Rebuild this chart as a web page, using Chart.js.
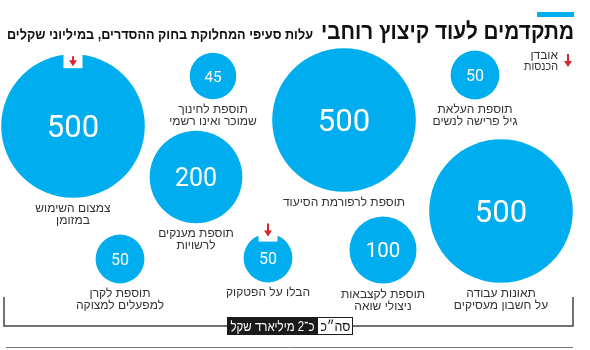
<!DOCTYPE html>
<html><head><meta charset="utf-8">
<script src="https://cdn.jsdelivr.net/npm/chart.js@4/dist/chart.umd.min.js"></script>
<style>html,body{margin:0;padding:0;background:#fff}#wrap{width:590px;height:350px}</style>
</head><body><div id="wrap"><canvas id="c" width="590" height="350"></canvas></div>
<script>
// ---- data ----
const values = [500, 45, 200, 500, 50, 500, 100, 50, 50];
const captions = [
  ["צמצום השימוש", "במזומן"],
  ["תוספת לחינוך", "שמוכר ואינו רשמי"],
  ["תוספת מענקים", "לרשויות"],
  ["תוספת לרפורמת הסיעוד"],
  ["תוספת העלאת", "גיל פרישה לנשים"],
  ["תאונות עבודה", "על חשבון מעסיקים"],
  ["תוספת לקצבאות", "ניצולי שואה"],
  ["הבלו על הפטקוק"],
  ["תוספת לקרן", "למפעלים למצוקה"]
];
const revenueLoss = [true, false, false, false, false, false, false, true, false];
const titleText = "מתקדמים לעוד קיצוץ רוחבי";
const subtitleText = "עלות סעיפי המחלוקת בחוק ההסדרים, במיליוני שקלים";
const legendLines = ["אובדן", "הכנסות"];
const totalLabel = "סה״כ";
const totalValue = "כ־2 מיליארד שקל";

// ---- layout (bubble centres in the 590x350 layout grid) ----
const posX = [73, 213, 196, 344, 475, 501, 383, 268, 120];
const posY = [126, 76, 177, 120, 75, 211, 250, 258, 259];

const BLUE = '#00AEEF', RED = '#D7262E', TEXT = '#333333';
const radiusOf = v => 2.5 + 3.1 * Math.sqrt(v);
const fontOf = v => 16 + 15 * (Math.log(v) - Math.log(50)) / (Math.log(500) - Math.log(50));

const points = values.map((v, i) => ({x: posX[i], y: posY[i], r: radiusOf(v)}));

function fitText(ctx, text, xRight, y, maxW) {
  const w = ctx.measureText(text).width;
  const s = Math.min(1, maxW / w);
  ctx.save();
  ctx.translate(xRight, y);
  ctx.scale(s, 1);
  ctx.textAlign = 'right';
  ctx.fillText(text, 0, 0);
  ctx.restore();
}
function fitCenter(ctx, text, x, y, maxW) {
  const w = ctx.measureText(text).width;
  const s = Math.min(1, maxW / w);
  ctx.save();
  ctx.translate(x, y);
  ctx.scale(s, 1);
  ctx.textAlign = 'center';
  ctx.fillText(text, 0, 0);
  ctx.restore();
}
function arrow(ctx, x, y0, y1) {
  ctx.save();
  ctx.strokeStyle = RED; ctx.fillStyle = RED; ctx.lineWidth = 2;
  ctx.beginPath(); ctx.moveTo(x, y0); ctx.lineTo(x, y1 - 4); ctx.stroke();
  ctx.beginPath(); ctx.moveTo(x - 4, y1 - 6); ctx.lineTo(x + 4, y1 - 6); ctx.lineTo(x, y1); ctx.closePath(); ctx.fill();
  ctx.restore();
}

const decor = {
  id: 'decor',
  afterDatasetsDraw(chart) {
    const ctx = chart.ctx;
    const meta = chart.getDatasetMeta(0);
    ctx.save();
    ctx.direction = 'rtl';
    // title
    ctx.fillStyle = BLUE;
    ctx.fillRect(537, 12, 37, 5);
    ctx.fillStyle = '#111';
    ctx.textBaseline = 'alphabetic';
    ctx.font = 'bold 23px "Liberation Sans", Arial, sans-serif';
    fitText(ctx, titleText, 574, 39, 253);
    ctx.font = 'bold 14px "Liberation Sans", Arial, sans-serif';
    fitText(ctx, subtitleText, 313, 39, 306);
    // legend
    ctx.fillStyle = TEXT;
    ctx.font = '12px "Liberation Sans", Arial, sans-serif';
    fitText(ctx, legendLines[0], 558, 59, 30);
    fitText(ctx, legendLines[1], 558, 70, 34);
    arrow(ctx, 568, 54, 67);

    meta.data.forEach((el, i) => {
      const v = values[i];
      const r = points[i].r;
      const cx = el.x, cy = el.y;
      // notch for revenue loss
      if (revenueLoss[i]) {
        const top = cy - r;
        const big = r > 50;
        ctx.fillStyle = '#fff';
        ctx.fillRect(cx - 9.5, top - 12, 19, big ? 26 : 20);
        if (big) arrow(ctx, cx, top + 2, top + 12);
        else arrow(ctx, cx, top - 10, top + 3);
      }
      // value
      const fs = fontOf(v);
      ctx.fillStyle = '#fff';
      ctx.font = fs.toFixed(1) + 'px Roboto, "Open Sans", sans-serif';
      ctx.textAlign = 'center';
      ctx.direction = 'ltr';
      ctx.fillText(String(v), cx, cy + fs * 0.36);
      ctx.direction = 'rtl';
      // caption
      ctx.fillStyle = TEXT;
      ctx.font = '12px "Liberation Sans", Arial, sans-serif';
      const bottom = cy + r;
      captions[i].forEach((line, k) => {
        fitCenter(ctx, line, cx, bottom + 14 + k * 12, 200);
      });
    });

    // total bracket
    ctx.strokeStyle = '#444'; ctx.lineWidth = 1.5;
    ctx.beginPath();
    ctx.moveTo(4, 297); ctx.lineTo(4, 326); ctx.lineTo(573, 326); ctx.lineTo(573, 297);
    ctx.stroke();
    ctx.fillStyle = '#fff'; ctx.fillRect(227, 317, 126, 18);
    ctx.fillStyle = '#1a1a1a'; ctx.fillRect(227, 317, 91, 18);
    ctx.strokeStyle = '#1a1a1a'; ctx.lineWidth = 1;
    ctx.strokeRect(227.5, 317.5, 125, 17);
    ctx.font = '14px "Liberation Sans", Arial, sans-serif';
    ctx.fillStyle = '#fff';
    fitCenter(ctx, totalValue, 272.5, 331, 84);
    ctx.fillStyle = '#111';
    fitCenter(ctx, totalLabel, 335.5, 331, 30);
    // bottom rule
    ctx.strokeStyle = '#777'; ctx.lineWidth = 1;
    ctx.beginPath(); ctx.moveTo(6, 347.5); ctx.lineTo(573, 347.5); ctx.stroke();
    ctx.restore();
  }
};

new Chart(document.getElementById('c'), {
  type: 'bubble',
  data: {datasets: [{data: points, backgroundColor: BLUE, borderWidth: 0, hoverRadius: 0, clip: false}]},
  options: {
    responsive: false, animation: false, events: [],
    layout: {padding: 0, autoPadding: false},
    plugins: {legend: {display: false}, tooltip: {enabled: false}},
    scales: {
      x: {type: 'linear', min: 0, max: 590, display: false},
      y: {type: 'linear', min: 0, max: 350, reverse: true, display: false}
    }
  },
  plugins: [decor]
});
</script></body></html>
